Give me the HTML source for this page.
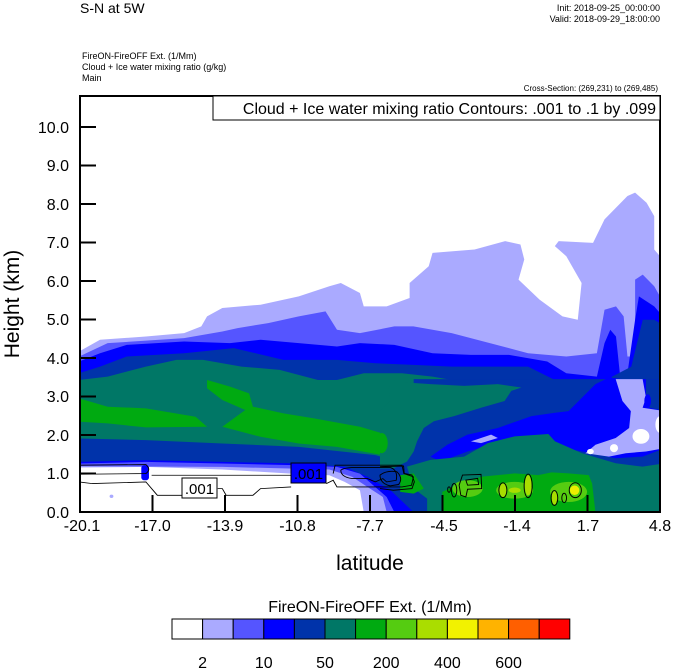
<!DOCTYPE html>
<html><head><meta charset="utf-8"><style>
html,body{margin:0;padding:0;background:#fff;}
svg{display:block;font-family:"Liberation Sans",sans-serif;}
</style></head><body>
<svg width="674" height="668" viewBox="0 0 674 668" xmlns="http://www.w3.org/2000/svg">
<defs><clipPath id="c"><rect x="80" y="96" width="580" height="416"/></clipPath></defs>
<text x="80" y="13" font-size="14">S-N at 5W</text>
<text x="660" y="11" font-size="9" text-anchor="end">Init: 2018-09-25_00:00:00</text>
<text x="660" y="22" font-size="9" text-anchor="end">Valid: 2018-09-29_18:00:00</text>
<text x="82" y="59" font-size="9">FireON-FireOFF Ext.   (1/Mm)</text>
<text x="82" y="70" font-size="9">Cloud + Ice water mixing ratio   (g/kg)</text>
<text x="82" y="81" font-size="9">Main</text>
<text x="658" y="91" font-size="8" text-anchor="end">Cross-Section: (269,231) to (269,485)</text>

<g clip-path="url(#c)">
<g transform="matrix(0.3822 0 0 0.3344 69.45 179.3)">
<polygon fill="#aaaaff" points="25,515 80,480 200,470 300,460 345,440 360,410 400,385 500,375 600,350 680,320 710,310 760,340 770,380 830,380 890,355 890,310 940,260 950,220 1060,210 1140,185 1180,195 1190,240 1175,300 1230,360 1290,410 1330,420 1340,310 1300,230 1270,200 1280,185 1370,190 1400,120 1460,50 1480,40 1510,70 1530,110 1530,210 1545,230 1545,995 25,995"/>
<polygon fill="#5555ff" points="25,530 100,490 300,475 400,455 440,445 520,430 600,410 670,395 700,450 760,460 850,440 900,440 1000,460 1100,490 1200,520 1300,530 1380,520 1400,390 1430,380 1450,410 1460,530 1480,530 1480,300 1500,285 1530,320 1545,350 1545,995 25,995"/>
<polygon fill="#0000ff" points="25,545 80,520 150,495 300,485 420,490 500,480 600,490 700,500 760,490 850,495 950,520 1050,525 1150,525 1250,545 1300,580 1380,590 1400,490 1415,450 1430,470 1440,580 1460,580 1480,420 1490,350 1530,380 1545,400 1545,995 25,995"/>
<polygon fill="#0033aa" points="25,580 80,560 150,530 300,520 430,505 560,540 700,540 800,550 900,555 1000,560 1100,560 1200,560 1270,600 1360,640 1410,610 1420,590 1470,560 1500,420 1530,420 1545,430 1545,995 25,995"/>
<!-- teal main -->
<polygon fill="#007766" points="25,600 100,590 200,560 280,540 350,540 450,560 550,570 650,600 700,600 770,580 870,580 950,590 1050,610 1120,620 1180,620 1240,640 1290,680 1300,715 1200,725 1100,735 1050,760 990,790 950,820 920,830 880,850 800,825 600,800 400,790 200,780 25,775"/>
<polygon fill="#00aa11" points="25,655 100,680 200,685 330,710 360,740 200,742 100,730 25,725"/>
<polygon fill="#00aa11" points="360,600 420,620 470,640 480,680 560,700 640,715 760,740 820,760 830,800 820,825 700,800 600,790 500,770 400,740 460,690 400,660 360,625"/>
<!-- bottom-left white region -->
<polygon fill="#0000ff" points="25,845 200,840 400,845 600,850 720,860 780,890 840,930 900,995 25,995"/>
<polygon fill="#5555ff" points="25,850 200,845 400,850 600,855 700,860 760,880 800,920 830,950 850,995 25,995"/>
<polygon fill="#aaaaff" points="25,858 400,860 680,868 740,890 780,920 820,950 830,995 25,995"/>
<polygon fill="#ffffff" points="25,862 200,860 400,868 580,880 680,885 720,905 760,930 770,995 25,995"/>
<rect x="188" y="855" width="20" height="45" rx="8" fill="#0000ff"/>
<circle cx="110" cy="948" r="5" fill="#aaaaff"/>
</g>

<!-- right-lower detail overlay (coords from reference crop) -->
<g transform="matrix(0.3367 0 0 0.3367 380 300)">
<polygon fill="#0033aa" points="0,500 60,470 100,400 100,235 560,235 846,235 846,632 140,632 100,560"/>
<polygon fill="#0000ff" points="560,330 600,290 640,250 680,230 720,235 846,235 846,440 780,465 700,470 600,450 500,430 420,420 330,430 260,450 180,480 150,465 200,430 260,400 350,380 450,345 520,335"/>
<polygon fill="#aaaaff" points="700,235 780,235 790,290 780,320 846,330 846,440 790,450 730,455 680,465 610,455 640,430 700,410 740,380 745,330 720,300"/>
<polygon fill="#0033aa" points="790,235 846,235 846,330 800,320 790,280"/>
<ellipse cx="795" cy="300" rx="10" ry="20" fill="#0000ff"/>
<polygon fill="#aaaaff" points="270,420 330,400 350,410 300,425"/>
<ellipse cx="775" cy="405" rx="25" ry="22" fill="#ffffff"/>
<ellipse cx="832" cy="370" rx="14" ry="25" fill="#ffffff"/>
<ellipse cx="695" cy="440" rx="12" ry="12" fill="#ffffff"/>
<ellipse cx="625" cy="450" rx="10" ry="8" fill="#ffffff"/>
<!-- upper teal blob -->
<polygon fill="#007766" points="0,330 30,300 25,260 40,240 80,245 150,250 250,255 350,250 420,260 390,270 370,300 300,320 220,345 160,360 130,380 110,420 100,450 80,480 40,500 0,500"/>
<ellipse cx="5" cy="425" rx="18" ry="30" fill="#00aa11"/>
<!-- lower teal -->
<polygon fill="#007766" points="80,495 150,475 250,465 320,425 400,405 500,398 520,420 600,455 700,485 780,495 846,485 846,632 140,632 140,590 100,560"/>
<polygon fill="#00aa11" points="185,570 240,545 300,525 400,515 470,520 510,512 560,515 620,520 630,545 640,632 185,632"/>
<polygon fill="#00aa11" points="60,520 100,515 130,560 100,575 60,570"/>
<ellipse cx="260" cy="560" rx="45" ry="25" fill="#55cc11"/>
<ellipse cx="400" cy="565" rx="55" ry="25" fill="#55cc11"/>
<ellipse cx="560" cy="570" rx="55" ry="30" fill="#55cc11"/>
<ellipse cx="440" cy="550" rx="10" ry="30" fill="#aadd00"/>
<ellipse cx="365" cy="565" rx="10" ry="20" fill="#aadd00"/>
<ellipse cx="400" cy="565" rx="18" ry="8" fill="#aadd00"/>
<ellipse cx="578" cy="565" rx="14" ry="14" fill="#eeee00"/>
<ellipse cx="518" cy="588" rx="8" ry="20" fill="#aadd00"/>
<g fill="none" stroke="#000" stroke-width="2.8">
<path d="M0,495 L70,493 L72,515 L95,520 L102,540 L95,560 L40,565 L0,560"/>
<path d="M0,520 Q20,505 50,510 Q70,530 55,548 L30,552 Q0,545 0,520Z"/>
<path d="M245,520 L300,518 L302,560 L260,562 L255,585 L240,580 L235,550Z"/>
<path d="M255,535 L290,530 L293,548 L260,550Z"/>
<ellipse cx="220" cy="565" rx="8" ry="20"/>
<ellipse cx="205" cy="563" rx="4" ry="8"/>
<ellipse cx="365" cy="565" rx="12" ry="22"/>
<ellipse cx="440" cy="552" rx="12" ry="35"/>
<ellipse cx="518" cy="588" rx="10" ry="22"/>
<ellipse cx="547" cy="588" rx="7" ry="14"/>
<ellipse cx="580" cy="565" rx="18" ry="22"/>
</g>
</g>

<g transform="matrix(0.3822 0 0 0.3344 69.45 179.3)">
<g fill="none" stroke="#000" stroke-width="2.5">
<path d="M25,855 L200,853 Q215,868 200,880 L25,882"/>
<path d="M215,885 L580,885"/>
<path d="M25,905 L60,910 L200,905 L230,945 L300,945 M388,925 L400,925 L410,945 L480,945 L500,925 L580,920 M672,910 L690,900 L700,920 L870,920 L895,915 L900,890 L875,880 L870,855 L695,855 L690,880"/>
<path d="M710,870 Q720,860 770,862 L840,862 Q860,870 855,900 L830,905 L820,895 L800,905 L780,895 L740,895 Q710,890 710,870Z"/>
</g>
</g>
<rect x="182" y="478" width="35" height="20" fill="#fff" stroke="#000" stroke-width="1"/>
<text x="199.5" y="494" font-size="15" text-anchor="middle">.001</text>
<rect x="291" y="463" width="35" height="20" fill="#0000ff" stroke="#000" stroke-width="1"/>
<text x="308.5" y="479" font-size="15" text-anchor="middle">.001</text>
</g>

<rect x="80" y="96" width="580" height="416" fill="none" stroke="#000" stroke-width="2"/>
<rect x="213" y="96" width="447" height="24" fill="#fff" stroke="#000" stroke-width="1"/>
<text x="656" y="114" font-size="16" text-anchor="end">Cloud + Ice water mixing ratio Contours: .001 to .1 by .099</text>

<g stroke="#000" stroke-width="2">
<line x1="80" y1="127" x2="96" y2="127"/><line x1="80" y1="165.5" x2="96" y2="165.5"/>
<line x1="80" y1="204" x2="96" y2="204"/><line x1="80" y1="242.5" x2="96" y2="242.5"/>
<line x1="80" y1="281" x2="96" y2="281"/><line x1="80" y1="319.5" x2="96" y2="319.5"/>
<line x1="80" y1="358" x2="96" y2="358"/><line x1="80" y1="396.5" x2="96" y2="396.5"/>
<line x1="80" y1="435" x2="96" y2="435"/><line x1="80" y1="473.5" x2="96" y2="473.5"/>
<line x1="152.5" y1="512" x2="152.5" y2="495"/><line x1="225" y1="512" x2="225" y2="495"/>
<line x1="297.5" y1="512" x2="297.5" y2="495"/><line x1="370" y1="512" x2="370" y2="495"/>
<line x1="442.5" y1="512" x2="442.5" y2="495"/><line x1="515" y1="512" x2="515" y2="495"/>
<line x1="587.5" y1="512" x2="587.5" y2="495"/>
</g>
<g font-size="16" text-anchor="end">
<text x="69" y="133">10.0</text><text x="69" y="171">9.0</text><text x="69" y="210">8.0</text>
<text x="69" y="248">7.0</text><text x="69" y="287">6.0</text><text x="69" y="325">5.0</text>
<text x="69" y="364">4.0</text><text x="69" y="402">3.0</text><text x="69" y="441">2.0</text>
<text x="69" y="479">1.0</text><text x="69" y="518">0.0</text>
</g>
<g font-size="16" text-anchor="middle">
<text x="82" y="531">-20.1</text><text x="152.5" y="531">-17.0</text><text x="225" y="531">-13.9</text>
<text x="297.5" y="531">-10.8</text><text x="370" y="531">-7.7</text><text x="444" y="531">-4.5</text>
<text x="517" y="531">-1.4</text><text x="588" y="531">1.7</text><text x="660" y="531">4.8</text>
</g>
<text x="370" y="570" font-size="21" text-anchor="middle">latitude</text>
<text transform="translate(19,304) rotate(-90)" font-size="21" text-anchor="middle">Height (km)</text>

<text x="370" y="612" font-size="16" text-anchor="middle">FireON-FireOFF Ext.  (1/Mm)</text>
<g stroke="#000" stroke-width="1">
<rect x="172" y="619" width="30.6" height="20" fill="#ffffff"/>
<rect x="202.6" y="619" width="30.6" height="20" fill="#aaaaff"/>
<rect x="233.2" y="619" width="30.6" height="20" fill="#5555ff"/>
<rect x="263.8" y="619" width="30.6" height="20" fill="#0000ff"/>
<rect x="294.4" y="619" width="30.6" height="20" fill="#0033aa"/>
<rect x="325" y="619" width="30.6" height="20" fill="#007766"/>
<rect x="355.6" y="619" width="30.6" height="20" fill="#00aa11"/>
<rect x="386.2" y="619" width="30.6" height="20" fill="#55cc11"/>
<rect x="416.8" y="619" width="30.6" height="20" fill="#aadd00"/>
<rect x="447.4" y="619" width="30.6" height="20" fill="#f2f200"/>
<rect x="478" y="619" width="30.6" height="20" fill="#ffb300"/>
<rect x="508.6" y="619" width="30.6" height="20" fill="#ff5f00"/>
<rect x="539.2" y="619" width="30.6" height="20" fill="#ff0000"/>
</g>
<g font-size="16" text-anchor="middle">
<text x="202.6" y="668">2</text><text x="263.8" y="668">10</text><text x="325" y="668">50</text>
<text x="386.2" y="668">200</text><text x="447.4" y="668">400</text><text x="508.6" y="668">600</text>
</g>
</svg>
</body></html>
